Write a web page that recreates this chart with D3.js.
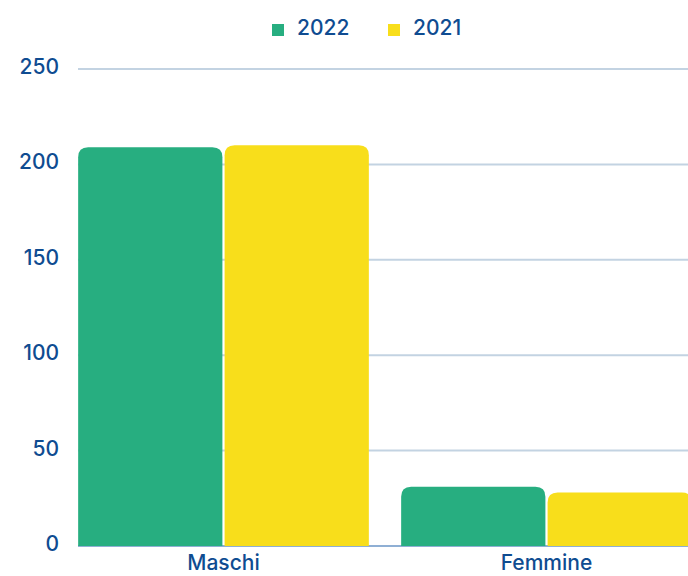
<!DOCTYPE html>
<html>
<head>
<meta charset="utf-8">
<script src="https://cdn.jsdelivr.net/npm/d3@7/dist/d3.min.js"></script>
<style>
  html, body { margin: 0; padding: 0; background: #fff; }
  svg { display: block; font-family: Inter, "Noto Sans", sans-serif; }
  .tick-label { fill: #0f4c91; font-size: 21px; font-weight: 500; }
  .cat-label { fill: #0f4c91; font-size: 21px; font-weight: 500; }
  .legend-label { fill: #0f4c91; font-size: 21px; font-weight: 500; }
</style>
</head>
<body>
<div id="chart"></div>
<script>
const CATEGORIES = ['Maschi', 'Femmine'];
const SERIES = ['2022', '2021'];
const VALUES_2022 = [209, 31];
const VALUES_2021 = [210, 28];
const Y_TICKS = [0, 50, 100, 150, 200, 250];
const COLORS = { '2022': '#27ae80', '2021': '#f8de1b' };

const width = 688, height = 576;
const margin = { left: 78, right: 0, top: 69, bottom: 30 };

const svg = d3.select('#chart').append('svg')
  .attr('width', width)
  .attr('height', height);

const yScale = d3.scaleLinear()
  .domain([0, 250])
  .range([height - margin.bottom, margin.top]);

const xScale = d3.scaleBand()
  .domain(CATEGORIES)
  .range([62, 708])
  .paddingInner(0.1)
  .paddingOuter(0.05);

const xSub = d3.scaleBand()
  .domain(SERIES)
  .range([0, xScale.bandwidth()])
  .paddingInner(0.015);

// gridlines
svg.append('g').attr('class', 'grid')
  .selectAll('line')
  .data(Y_TICKS.filter(d => d > 0))
  .enter()
  .append('line')
  .attr('x1', margin.left)
  .attr('x2', width)
  .attr('y1', d => yScale(d))
  .attr('y2', d => yScale(d))
  .attr('stroke', '#c3d3e2')
  .attr('stroke-width', 2);

// baseline
svg.append('line')
  .attr('x1', margin.left)
  .attr('x2', width)
  .attr('y1', yScale(0))
  .attr('y2', yScale(0))
  .attr('stroke', '#6a95c6')
  .attr('stroke-width', 1.5);

// y tick labels
svg.append('g')
  .selectAll('text')
  .data(Y_TICKS)
  .enter()
  .append('text')
  .attr('class', 'tick-label')
  .attr('x', 59)
  .attr('y', d => yScale(d) + 5)
  .attr('text-anchor', 'end')
  .text(d => d);

// rounded top bar path
function topRounded(x, y, w, h, r) {
  r = Math.min(r, h, w / 2);
  return `M${x},${y + h}V${y + r}Q${x},${y} ${x + r},${y}H${x + w - r}Q${x + w},${y} ${x + w},${y + r}V${y + h}Z`;
}

const rows = CATEGORIES.map((c, i) => ({
  category: c,
  values: [
    { key: '2022', value: VALUES_2022[i] },
    { key: '2021', value: VALUES_2021[i] }
  ]
}));

const groups = svg.append('g').attr('class', 'bars')
  .selectAll('g')
  .data(rows)
  .enter()
  .append('g')
  .attr('transform', d => `translate(${xScale(d.category)},0)`);

groups.selectAll('path')
  .data(d => d.values)
  .enter()
  .append('path')
  .attr('fill', d => COLORS[d.key])
  .attr('d', d => topRounded(
    xSub(d.key), yScale(d.value), xSub.bandwidth(),
    yScale(0) - yScale(d.value), 10));

// category labels
svg.append('g')
  .selectAll('text')
  .data(CATEGORIES)
  .enter()
  .append('text')
  .attr('class', 'cat-label')
  .attr('x', d => xScale(d) + xScale.bandwidth() / 2)
  .attr('y', 570)
  .attr('text-anchor', 'middle')
  .text(d => d);

// legend
const legendPos = { '2022': 272, '2021': 388 };
const legend = svg.append('g').attr('class', 'legend')
  .selectAll('g')
  .data(SERIES)
  .enter()
  .append('g')
  .attr('transform', d => `translate(${legendPos[d]},0)`);

legend.append('rect')
  .attr('x', 0)
  .attr('y', 24)
  .attr('width', 12)
  .attr('height', 12)
  .attr('fill', d => COLORS[d]);

legend.append('text')
  .attr('class', 'legend-label')
  .attr('x', 25)
  .attr('y', 35)
  .text(d => d);
</script>
</body>
</html>
